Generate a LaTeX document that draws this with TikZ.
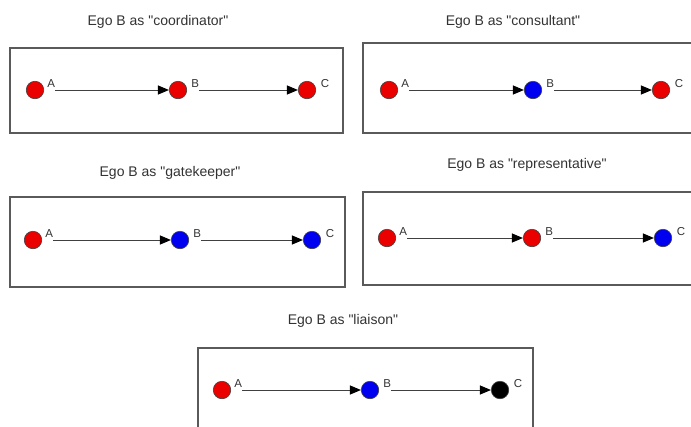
\documentclass[tikz,border=0pt]{standalone}
\usepackage{fontspec}
\newfontfamily\arialfont{Liberation Sans}
\usetikzlibrary{arrows.meta}
\definecolor{nred}{RGB}{235,0,0}
\definecolor{nblue}{RGB}{0,0,240}
\definecolor{framec}{RGB}{90,90,90}
\definecolor{txt}{RGB}{50,50,50}
\tikzset{
 vtx/.style={circle, minimum size=17.5pt, inner sep=0pt, draw=black!75, line width=0.6pt},
 lbl/.style={font=\arialfont\fontsize{11.5}{13}\selectfont, text=txt, inner sep=0pt, anchor=south west},
 ttl/.style={font=\arialfont\fontsize{14}{16}\selectfont, text=txt, inner sep=0pt},
 panelbox/.style={draw=framec, line width=1.4pt},
 edge/.style={draw=black!75, line width=1pt, -{Triangle[length=11pt,width=9pt,color=black]}}
}
\begin{document}
\begin{tikzpicture}[x=1pt,y=-1pt]
\useasboundingbox (0,0) rectangle (691,426);
\begin{scope}
\clip (0,0) rectangle (691,426);
% Panel 1
\node[ttl] (t1) at (158,22) {Ego B as "coordinator"};
\draw[panelbox] (10,48) rectangle (343,133);
\node[vtx, fill=nred] (a1) at (35,90) {};
\node[vtx, fill=nred] (b1) at (178,90) {};
\node[vtx, fill=nred] (c1) at (307,90) {};
\node[lbl] (la1) at ([xshift=3pt,yshift=2.5pt]a1.east) {A};
\node[lbl] (lb1) at ([xshift=4pt,yshift=2.5pt]b1.east) {B};
\node[lbl] (lc1) at ([xshift=4.5pt,yshift=2.5pt]c1.east) {C};
\draw[edge] (la1.east |- a1) -- (b1.west);
\draw[edge] (lb1.east |- b1) -- (c1.west);
% Panel 2
\node[ttl] (t2) at (513,22) {Ego B as "consultant"};
\draw[panelbox] (363,43) rectangle (700,133);
\node[vtx, fill=nred] (a2) at (389,90) {};
\node[vtx, fill=nblue] (b2) at (533,90) {};
\node[vtx, fill=nred] (c2) at (661,90) {};
\node[lbl] (la2) at ([xshift=3pt,yshift=2.5pt]a2.east) {A};
\node[lbl] (lb2) at ([xshift=4pt,yshift=2.5pt]b2.east) {B};
\node[lbl] (lc2) at ([xshift=4.5pt,yshift=2.5pt]c2.east) {C};
\draw[edge] (la2.east |- a2) -- (b2.west);
\draw[edge] (lb2.east |- b2) -- (c2.west);
% Panel 3
\node[ttl] (t3) at (170,173) {Ego B as "gatekeeper"};
\draw[panelbox] (10,197) rectangle (345,287);
\node[vtx, fill=nred] (a3) at (33,240) {};
\node[vtx, fill=nblue] (b3) at (180,240) {};
\node[vtx, fill=nblue] (c3) at (312,240) {};
\node[lbl] (la3) at ([xshift=3pt,yshift=2.5pt]a3.east) {A};
\node[lbl] (lb3) at ([xshift=4pt,yshift=2.5pt]b3.east) {B};
\node[lbl] (lc3) at ([xshift=4.5pt,yshift=2.5pt]c3.east) {C};
\draw[edge] (la3.east |- a3) -- (b3.west);
\draw[edge] (lb3.east |- b3) -- (c3.west);
% Panel 4
\node[ttl] (t4) at (527,165) {Ego B as "representative"};
\draw[panelbox] (363,192) rectangle (700,285);
\node[vtx, fill=nred] (a4) at (387,238) {};
\node[vtx, fill=nred] (b4) at (532,238) {};
\node[vtx, fill=nblue] (c4) at (663,238) {};
\node[lbl] (la4) at ([xshift=3pt,yshift=2.5pt]a4.east) {A};
\node[lbl] (lb4) at ([xshift=4pt,yshift=2.5pt]b4.east) {B};
\node[lbl] (lc4) at ([xshift=4.5pt,yshift=2.5pt]c4.east) {C};
\draw[edge] (la4.east |- a4) -- (b4.west);
\draw[edge] (lb4.east |- b4) -- (c4.west);
% Panel 5
\node[ttl] (t5) at (343,321) {Ego B as "liaison"};
\draw[panelbox] (198,348) rectangle (533,440);
\node[vtx, fill=nred] (a5) at (222,390) {};
\node[vtx, fill=nblue] (b5) at (370,390) {};
\node[vtx, fill=black] (c5) at (500,390) {};
\node[lbl] (la5) at ([xshift=3pt,yshift=2.5pt]a5.east) {A};
\node[lbl] (lb5) at ([xshift=4pt,yshift=2.5pt]b5.east) {B};
\node[lbl] (lc5) at ([xshift=4.5pt,yshift=2.5pt]c5.east) {C};
\draw[edge] (la5.east |- a5) -- (b5.west);
\draw[edge] (lb5.east |- b5) -- (c5.west);
\end{scope}
\end{tikzpicture}
\end{document}
